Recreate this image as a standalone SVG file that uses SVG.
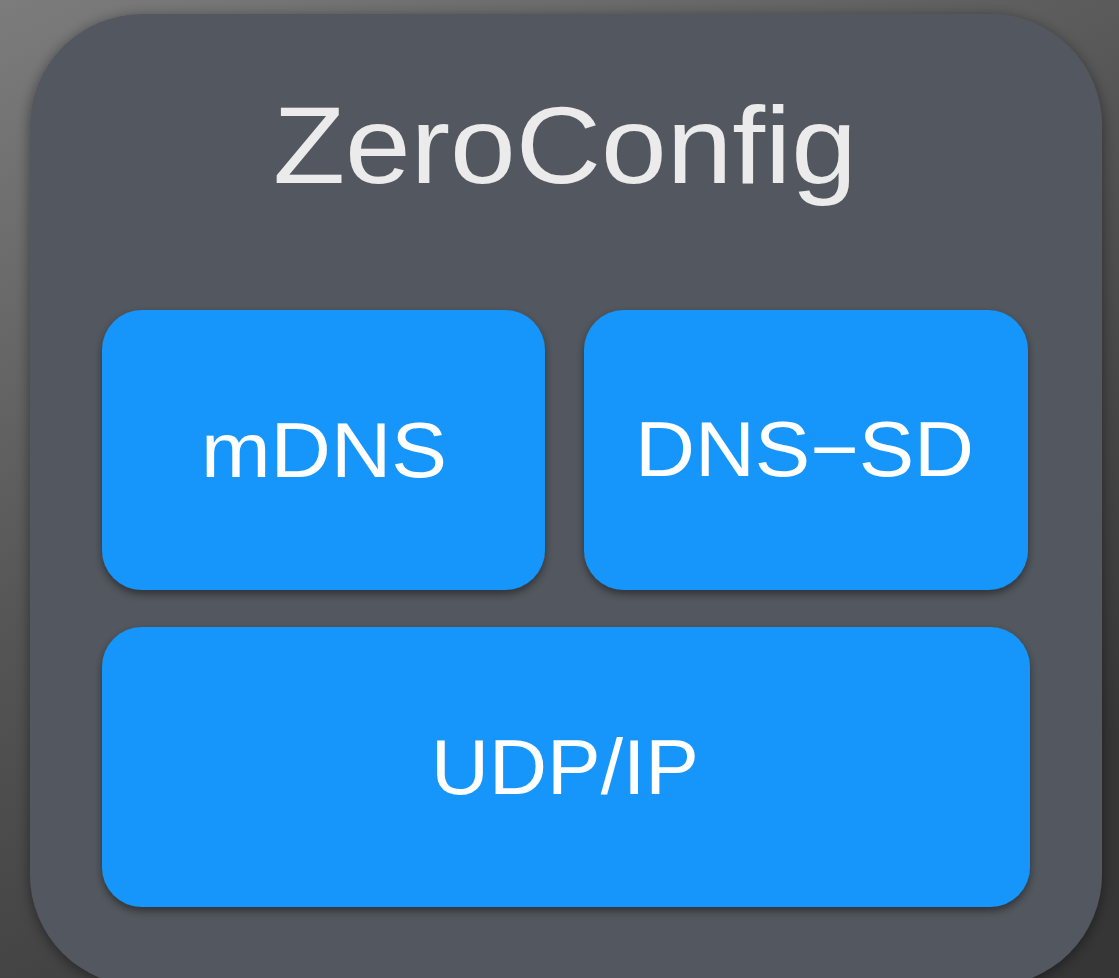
<svg xmlns="http://www.w3.org/2000/svg" width="1119" height="978" viewBox="0 0 1119 978">
  <defs>
    <linearGradient id="bg" x1="0" y1="0" x2="0.55" y2="1">
      <stop offset="0" stop-color="#7c7c7c"/>
      <stop offset="0.5" stop-color="#555555"/>
      <stop offset="1" stop-color="#363636"/>
    </linearGradient>
    <filter id="panelShadow" x="-10%" y="-10%" width="120%" height="120%">
      <feDropShadow dx="0" dy="3" stdDeviation="7" flood-color="#000" flood-opacity="0.45"/>
    </filter>
    <filter id="boxShadow" x="-10%" y="-10%" width="120%" height="130%">
      <feDropShadow dx="0" dy="4" stdDeviation="4" flood-color="#000" flood-opacity="0.45"/>
    </filter>
  </defs>
  <style>
    .panel { fill: #535861; }
    .box { fill: #1596fb; }
    .title { font-family: "Liberation Sans", Arial, sans-serif; font-size: 110px; fill: #ebebeb; }
    .label { font-family: "Liberation Sans", Arial, sans-serif; font-size: 78px; fill: #ffffff; }
  </style>
  <rect x="0" y="0" width="1119" height="978" fill="url(#bg)"/>
  <g id="zeroconf">
    <rect class="panel" x="30" y="14" width="1072" height="972" rx="112" ry="112" filter="url(#panelShadow)"/>
    <text class="title" x="273" y="183" textLength="584" lengthAdjust="spacingAndGlyphs">ZeroConfig</text>
  </g>
  <g id="mdns">
    <rect class="box" x="102" y="310" width="443" height="280" rx="40" ry="40" filter="url(#boxShadow)"/>
    <text class="label" x="201" y="477" textLength="246" lengthAdjust="spacingAndGlyphs">mDNS</text>
  </g>
  <g id="dnssd">
    <rect class="box" x="584" y="310" width="444" height="280" rx="40" ry="40" filter="url(#boxShadow)"/>
    <text class="label" x="635" y="476" textLength="339" lengthAdjust="spacingAndGlyphs">DNS−SD</text>
  </g>
  <g id="udpip">
    <rect class="box" x="102" y="627" width="928" height="280" rx="40" ry="40" filter="url(#boxShadow)"/>
    <text class="label" x="431" y="794" textLength="268" lengthAdjust="spacingAndGlyphs">UDP/IP</text>
  </g>
  <g id="connectors"/>
</svg>
